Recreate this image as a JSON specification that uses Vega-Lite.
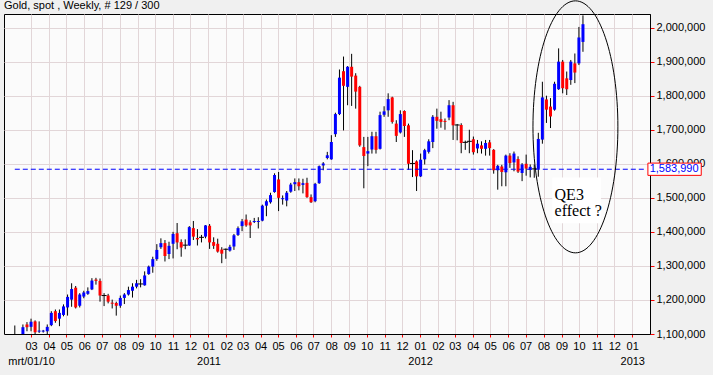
{
  "$schema": "https://vega.github.io/schema/vega-lite/v6.json",
  "width": 646,
  "height": 320,
  "autosize": {"type": "none"},
  "padding": {"left": 4, "top": 14, "right": 63, "bottom": 41},
  "background": "#F0F0F0",
  "config": {
    "view": {"fill": "#FBFBFB", "stroke": "#000000", "strokeWidth": 1},
    "font": "Liberation Sans",
    "axis": {
      "labelFont": "Liberation Sans",
      "labelFontSize": 11,
      "labelColor": "#000000",
      "gridColor": "#E2D6D8",
      "gridWidth": 1,
      "domainColor": "#000000",
      "tickColor": "#FF0000",
      "title": null
    },
    "axisY": {"labelOverlap": false, "labelBound": false, "labelFlush": false},
    "axisRight": {"labelOverlap": false, "labelBound": false, "labelFlush": false}
  },
  "title": {
    "text": "Gold, spot , Weekly, # 129 / 300",
    "anchor": "start",
    "frame": "group",
    "font": "Liberation Sans",
    "fontSize": 11,
    "fontWeight": "normal",
    "color": "#000000",
    "offset": 1,
    "dy": 13
  },
  "datasets": {
    "level": [{"d": "2010-02-01", "d2": "2013-01-23", "p": 1583990}],
    "qebox": [{"d": "2012-08-16", "d2": "2012-11-08", "p": 1560000, "p2": 1425000}],
    "ellipse": [{"d": "2012-09-25", "p": 1708500}],
    "qetext": [{"d": "2012-08-20", "p": 1494000}],
    "lblbox": [{"d": "2013-01-28", "d2": "2013-04-30", "p": 1602000, "p2": 1566000}],
    "lbltext": [{"d": "2013-01-31", "p": 1583990}]
  },
  "data": {
    "values": [
      {"d": "2010-02-01", "o": 1085000, "h": 1125000, "l": 1070000, "c": 1095000},
      {"d": "2010-02-08", "o": 1095000, "h": 1098000, "l": 1060000, "c": 1080000},
      {"d": "2010-02-15", "o": 1095000, "h": 1128000, "l": 1085000, "c": 1120000},
      {"d": "2010-02-22", "o": 1128000, "h": 1135000, "l": 1108000, "c": 1120000},
      {"d": "2010-03-01", "o": 1121000, "h": 1145000, "l": 1108000, "c": 1136000},
      {"d": "2010-03-08", "o": 1137000, "h": 1140000, "l": 1098000, "c": 1105000},
      {"d": "2010-03-15", "o": 1107000, "h": 1137000, "l": 1103000, "c": 1110000},
      {"d": "2010-03-22", "o": 1107000, "h": 1112000, "l": 1104000, "c": 1110000},
      {"d": "2010-03-29", "o": 1108000, "h": 1128000, "l": 1100000, "c": 1121000},
      {"d": "2010-04-05", "o": 1126000, "h": 1167000, "l": 1123000, "c": 1162000},
      {"d": "2010-04-12", "o": 1167000, "h": 1172000, "l": 1133000, "c": 1138000},
      {"d": "2010-04-19", "o": 1145000, "h": 1172000, "l": 1123000, "c": 1162000},
      {"d": "2010-04-26", "o": 1156000, "h": 1187000, "l": 1152000, "c": 1181000},
      {"d": "2010-05-03", "o": 1178000, "h": 1216000, "l": 1154000, "c": 1209000},
      {"d": "2010-05-10", "o": 1201000, "h": 1249000, "l": 1180000, "c": 1232000},
      {"d": "2010-05-17", "o": 1236000, "h": 1241000, "l": 1175000, "c": 1178000},
      {"d": "2010-05-24", "o": 1183000, "h": 1220000, "l": 1178000, "c": 1216000},
      {"d": "2010-05-31", "o": 1210000, "h": 1227000, "l": 1205000, "c": 1222000},
      {"d": "2010-06-07", "o": 1218000, "h": 1237000, "l": 1215000, "c": 1226000},
      {"d": "2010-06-14", "o": 1231000, "h": 1264000, "l": 1229000, "c": 1257000},
      {"d": "2010-06-21", "o": 1260000, "h": 1265000, "l": 1245000, "c": 1256000},
      {"d": "2010-06-28", "o": 1256000, "h": 1263000, "l": 1195000, "c": 1213000},
      {"d": "2010-07-05", "o": 1213000, "h": 1220000, "l": 1182000, "c": 1213000},
      {"d": "2010-07-12", "o": 1213000, "h": 1218000, "l": 1190000, "c": 1195000},
      {"d": "2010-07-19", "o": 1192000, "h": 1201000, "l": 1175000, "c": 1189000},
      {"d": "2010-07-26", "o": 1191000, "h": 1195000, "l": 1154000, "c": 1183000},
      {"d": "2010-08-02", "o": 1183000, "h": 1213000, "l": 1177000, "c": 1206000},
      {"d": "2010-08-09", "o": 1206000, "h": 1220000, "l": 1188000, "c": 1216000},
      {"d": "2010-08-16", "o": 1216000, "h": 1239000, "l": 1213000, "c": 1229000},
      {"d": "2010-08-23", "o": 1227000, "h": 1249000, "l": 1207000, "c": 1239000},
      {"d": "2010-08-30", "o": 1239000, "h": 1259000, "l": 1234000, "c": 1249000},
      {"d": "2010-09-06", "o": 1247000, "h": 1261000, "l": 1237000, "c": 1247000},
      {"d": "2010-09-13", "o": 1243000, "h": 1284000, "l": 1242000, "c": 1272000},
      {"d": "2010-09-20", "o": 1276000, "h": 1301000, "l": 1274000, "c": 1298000},
      {"d": "2010-09-27", "o": 1298000, "h": 1327000, "l": 1280000, "c": 1320000},
      {"d": "2010-10-04", "o": 1320000, "h": 1364000, "l": 1315000, "c": 1347000},
      {"d": "2010-10-11", "o": 1355000, "h": 1381000, "l": 1350000, "c": 1367000},
      {"d": "2010-10-18", "o": 1367000, "h": 1376000, "l": 1313000, "c": 1329000},
      {"d": "2010-10-25", "o": 1335000, "h": 1371000, "l": 1320000, "c": 1359000},
      {"d": "2010-11-01", "o": 1365000, "h": 1400000, "l": 1322000, "c": 1394000},
      {"d": "2010-11-08", "o": 1396000, "h": 1426000, "l": 1349000, "c": 1369000},
      {"d": "2010-11-15", "o": 1370000, "h": 1378000, "l": 1327000, "c": 1354000},
      {"d": "2010-11-22", "o": 1361000, "h": 1378000, "l": 1349000, "c": 1361000},
      {"d": "2010-11-29", "o": 1360000, "h": 1417000, "l": 1359000, "c": 1414000},
      {"d": "2010-12-06", "o": 1411000, "h": 1432000, "l": 1376000, "c": 1386000},
      {"d": "2010-12-13", "o": 1382000, "h": 1408000, "l": 1360000, "c": 1378000},
      {"d": "2010-12-20", "o": 1384000, "h": 1391000, "l": 1369000, "c": 1384000},
      {"d": "2010-12-27", "o": 1386000, "h": 1420000, "l": 1381000, "c": 1419000},
      {"d": "2011-01-03", "o": 1418000, "h": 1423000, "l": 1350000, "c": 1369000},
      {"d": "2011-01-10", "o": 1370000, "h": 1384000, "l": 1350000, "c": 1359000},
      {"d": "2011-01-17", "o": 1365000, "h": 1380000, "l": 1339000, "c": 1342000},
      {"d": "2011-01-24", "o": 1348000, "h": 1355000, "l": 1308000, "c": 1336000},
      {"d": "2011-01-31", "o": 1349000, "h": 1351000, "l": 1321000, "c": 1349000},
      {"d": "2011-02-07", "o": 1345000, "h": 1362000, "l": 1342000, "c": 1356000},
      {"d": "2011-02-14", "o": 1357000, "h": 1394000, "l": 1347000, "c": 1390000},
      {"d": "2011-02-21", "o": 1391000, "h": 1416000, "l": 1388000, "c": 1411000},
      {"d": "2011-02-28", "o": 1417000, "h": 1438000, "l": 1402000, "c": 1431000},
      {"d": "2011-03-07", "o": 1436000, "h": 1451000, "l": 1415000, "c": 1419000},
      {"d": "2011-03-14", "o": 1428000, "h": 1434000, "l": 1382000, "c": 1419000},
      {"d": "2011-03-21", "o": 1429000, "h": 1441000, "l": 1426000, "c": 1432000},
      {"d": "2011-03-28", "o": 1429000, "h": 1443000, "l": 1410000, "c": 1432000},
      {"d": "2011-04-04", "o": 1433000, "h": 1480000, "l": 1431000, "c": 1477000},
      {"d": "2011-04-11", "o": 1477000, "h": 1495000, "l": 1446000, "c": 1490000},
      {"d": "2011-04-18", "o": 1487000, "h": 1515000, "l": 1483000, "c": 1508000},
      {"d": "2011-04-25", "o": 1517000, "h": 1572000, "l": 1515000, "c": 1567000},
      {"d": "2011-05-02", "o": 1554000, "h": 1576000, "l": 1461000, "c": 1500000},
      {"d": "2011-05-09", "o": 1496000, "h": 1507000, "l": 1480000, "c": 1499000},
      {"d": "2011-05-16", "o": 1492000, "h": 1520000, "l": 1475000, "c": 1515000},
      {"d": "2011-05-23", "o": 1518000, "h": 1544000, "l": 1515000, "c": 1539000},
      {"d": "2011-05-30", "o": 1540000, "h": 1557000, "l": 1520000, "c": 1546000},
      {"d": "2011-06-06", "o": 1546000, "h": 1557000, "l": 1522000, "c": 1534000},
      {"d": "2011-06-13", "o": 1538000, "h": 1556000, "l": 1513000, "c": 1543000},
      {"d": "2011-06-20", "o": 1544000, "h": 1559000, "l": 1500000, "c": 1502000},
      {"d": "2011-06-27", "o": 1502000, "h": 1510000, "l": 1485000, "c": 1487000},
      {"d": "2011-07-04", "o": 1490000, "h": 1544000, "l": 1487000, "c": 1541000},
      {"d": "2011-07-11", "o": 1543000, "h": 1595000, "l": 1541000, "c": 1593000},
      {"d": "2011-07-18", "o": 1595000, "h": 1605000, "l": 1581000, "c": 1601000},
      {"d": "2011-07-25", "o": 1617000, "h": 1635000, "l": 1613000, "c": 1625000},
      {"d": "2011-08-01", "o": 1613000, "h": 1684000, "l": 1612000, "c": 1664000},
      {"d": "2011-08-08", "o": 1687000, "h": 1750000, "l": 1679000, "c": 1746000},
      {"d": "2011-08-15", "o": 1746000, "h": 1877000, "l": 1743000, "c": 1853000},
      {"d": "2011-08-22", "o": 1872000, "h": 1915000, "l": 1698000, "c": 1829000},
      {"d": "2011-08-29", "o": 1826000, "h": 1887000, "l": 1772000, "c": 1885000},
      {"d": "2011-09-05", "o": 1885000, "h": 1923000, "l": 1770000, "c": 1856000},
      {"d": "2011-09-12", "o": 1859000, "h": 1866000, "l": 1762000, "c": 1812000},
      {"d": "2011-09-19", "o": 1826000, "h": 1829000, "l": 1650000, "c": 1654000},
      {"d": "2011-09-26", "o": 1649000, "h": 1679000, "l": 1528000, "c": 1623000},
      {"d": "2011-10-03", "o": 1630000, "h": 1679000, "l": 1593000, "c": 1637000},
      {"d": "2011-10-10", "o": 1642000, "h": 1694000, "l": 1630000, "c": 1681000},
      {"d": "2011-10-17", "o": 1681000, "h": 1694000, "l": 1630000, "c": 1641000},
      {"d": "2011-10-24", "o": 1644000, "h": 1753000, "l": 1642000, "c": 1743000},
      {"d": "2011-10-31", "o": 1744000, "h": 1769000, "l": 1738000, "c": 1754000},
      {"d": "2011-11-07", "o": 1757000, "h": 1807000, "l": 1738000, "c": 1790000},
      {"d": "2011-11-14", "o": 1795000, "h": 1797000, "l": 1718000, "c": 1723000},
      {"d": "2011-11-21", "o": 1718000, "h": 1728000, "l": 1664000, "c": 1682000},
      {"d": "2011-11-28", "o": 1692000, "h": 1757000, "l": 1689000, "c": 1746000},
      {"d": "2011-12-05", "o": 1755000, "h": 1757000, "l": 1679000, "c": 1711000},
      {"d": "2011-12-12", "o": 1713000, "h": 1718000, "l": 1582000, "c": 1600000},
      {"d": "2011-12-19", "o": 1601000, "h": 1640000, "l": 1561000, "c": 1601000},
      {"d": "2011-12-26", "o": 1607000, "h": 1610000, "l": 1520000, "c": 1563000},
      {"d": "2012-01-02", "o": 1563000, "h": 1630000, "l": 1561000, "c": 1612000},
      {"d": "2012-01-09", "o": 1613000, "h": 1644000, "l": 1598000, "c": 1640000},
      {"d": "2012-01-16", "o": 1635000, "h": 1672000, "l": 1630000, "c": 1666000},
      {"d": "2012-01-23", "o": 1664000, "h": 1743000, "l": 1646000, "c": 1738000},
      {"d": "2012-01-30", "o": 1738000, "h": 1762000, "l": 1703000, "c": 1726000},
      {"d": "2012-02-06", "o": 1731000, "h": 1753000, "l": 1706000, "c": 1723000},
      {"d": "2012-02-13", "o": 1726000, "h": 1733000, "l": 1700000, "c": 1723000},
      {"d": "2012-02-20", "o": 1736000, "h": 1787000, "l": 1728000, "c": 1772000},
      {"d": "2012-02-27", "o": 1772000, "h": 1782000, "l": 1670000, "c": 1713000},
      {"d": "2012-03-05", "o": 1714000, "h": 1717000, "l": 1669000, "c": 1714000},
      {"d": "2012-03-12", "o": 1714000, "h": 1719000, "l": 1631000, "c": 1661000},
      {"d": "2012-03-19", "o": 1663000, "h": 1668000, "l": 1641000, "c": 1663000},
      {"d": "2012-03-26", "o": 1666000, "h": 1700000, "l": 1631000, "c": 1666000},
      {"d": "2012-04-02", "o": 1672000, "h": 1680000, "l": 1627000, "c": 1634000},
      {"d": "2012-04-09", "o": 1645000, "h": 1670000, "l": 1631000, "c": 1659000},
      {"d": "2012-04-16", "o": 1654000, "h": 1666000, "l": 1630000, "c": 1644000},
      {"d": "2012-04-23", "o": 1644000, "h": 1670000, "l": 1624000, "c": 1661000},
      {"d": "2012-04-30", "o": 1663000, "h": 1670000, "l": 1624000, "c": 1646000},
      {"d": "2012-05-07", "o": 1641000, "h": 1643000, "l": 1571000, "c": 1581000},
      {"d": "2012-05-14", "o": 1581000, "h": 1597000, "l": 1524000, "c": 1594000},
      {"d": "2012-05-21", "o": 1592000, "h": 1597000, "l": 1534000, "c": 1576000},
      {"d": "2012-05-28", "o": 1575000, "h": 1627000, "l": 1534000, "c": 1624000},
      {"d": "2012-06-04", "o": 1624000, "h": 1631000, "l": 1588000, "c": 1602000},
      {"d": "2012-06-11", "o": 1604000, "h": 1636000, "l": 1578000, "c": 1630000},
      {"d": "2012-06-18", "o": 1614000, "h": 1622000, "l": 1573000, "c": 1577000},
      {"d": "2012-06-25", "o": 1573000, "h": 1602000, "l": 1549000, "c": 1598000},
      {"d": "2012-07-02", "o": 1600000, "h": 1627000, "l": 1565000, "c": 1586000},
      {"d": "2012-07-09", "o": 1582000, "h": 1598000, "l": 1560000, "c": 1591000},
      {"d": "2012-07-16", "o": 1585000, "h": 1598000, "l": 1559000, "c": 1585000},
      {"d": "2012-07-23", "o": 1585000, "h": 1691000, "l": 1562000, "c": 1673000},
      {"d": "2012-07-30", "o": 1671000, "h": 1841000, "l": 1659000, "c": 1795000},
      {"d": "2012-08-06", "o": 1789000, "h": 1800000, "l": 1720000, "c": 1759000},
      {"d": "2012-08-13", "o": 1768000, "h": 1793000, "l": 1705000, "c": 1739000},
      {"d": "2012-08-20", "o": 1759000, "h": 1841000, "l": 1756000, "c": 1835000},
      {"d": "2012-08-27", "o": 1819000, "h": 1939000, "l": 1817000, "c": 1900000},
      {"d": "2012-09-03", "o": 1900000, "h": 1905000, "l": 1807000, "c": 1822000},
      {"d": "2012-09-10", "o": 1851000, "h": 1871000, "l": 1802000, "c": 1819000},
      {"d": "2012-09-17", "o": 1846000, "h": 1905000, "l": 1832000, "c": 1900000},
      {"d": "2012-09-24", "o": 1895000, "h": 1924000, "l": 1837000, "c": 1868000},
      {"d": "2012-10-01", "o": 1895000, "h": 2002000, "l": 1890000, "c": 1971000},
      {"d": "2012-10-08", "o": 1958000, "h": 2036000, "l": 1929000, "c": 2010000}
    ]
  },
  "encoding": {
    "x": {
      "field": "d",
      "type": "temporal",
      "title": null,
      "scale": {
        "type": "utc",
        "domain": [
          {"year": 2010, "month": 1, "date": 22, "utc": true},
          {"year": 2013, "month": 1, "date": 23, "utc": true}
        ]
      },
      "axis": {
        "values": [
          {"year": 2010, "month": 3, "date": 1, "utc": true},
          {"year": 2010, "month": 4, "date": 1, "utc": true},
          {"year": 2010, "month": 5, "date": 1, "utc": true},
          {"year": 2010, "month": 6, "date": 1, "utc": true},
          {"year": 2010, "month": 7, "date": 1, "utc": true},
          {"year": 2010, "month": 8, "date": 1, "utc": true},
          {"year": 2010, "month": 9, "date": 1, "utc": true},
          {"year": 2010, "month": 10, "date": 1, "utc": true},
          {"year": 2010, "month": 11, "date": 1, "utc": true},
          {"year": 2010, "month": 12, "date": 1, "utc": true},
          {"year": 2011, "month": 1, "date": 1, "utc": true},
          {"year": 2011, "month": 2, "date": 1, "utc": true},
          {"year": 2011, "month": 3, "date": 1, "utc": true},
          {"year": 2011, "month": 4, "date": 1, "utc": true},
          {"year": 2011, "month": 5, "date": 1, "utc": true},
          {"year": 2011, "month": 6, "date": 1, "utc": true},
          {"year": 2011, "month": 7, "date": 1, "utc": true},
          {"year": 2011, "month": 8, "date": 1, "utc": true},
          {"year": 2011, "month": 9, "date": 1, "utc": true},
          {"year": 2011, "month": 10, "date": 1, "utc": true},
          {"year": 2011, "month": 11, "date": 1, "utc": true},
          {"year": 2011, "month": 12, "date": 1, "utc": true},
          {"year": 2012, "month": 1, "date": 1, "utc": true},
          {"year": 2012, "month": 2, "date": 1, "utc": true},
          {"year": 2012, "month": 3, "date": 1, "utc": true},
          {"year": 2012, "month": 4, "date": 1, "utc": true},
          {"year": 2012, "month": 5, "date": 1, "utc": true},
          {"year": 2012, "month": 6, "date": 1, "utc": true},
          {"year": 2012, "month": 7, "date": 1, "utc": true},
          {"year": 2012, "month": 8, "date": 1, "utc": true},
          {"year": 2012, "month": 9, "date": 1, "utc": true},
          {"year": 2012, "month": 10, "date": 1, "utc": true},
          {"year": 2012, "month": 11, "date": 1, "utc": true},
          {"year": 2012, "month": 12, "date": 1, "utc": true},
          {"year": 2013, "month": 1, "date": 1, "utc": true}
        ],
        "labelExpr": "utcmonth(datum.value) == 0 ? [utcFormat(datum.value, '%m'), utcFormat(datum.value, '%Y')] : ((utcyear(datum.value) == 2010 && utcmonth(datum.value) == 2) ? ['03', 'mrt/01/10'] : utcFormat(datum.value, '%m'))",
        "labelAngle": 0,
        "labelAlign": "center",
        "labelBaseline": "top",
        "labelLineHeight": 15,
        "labelOverlap": false,
        "labelFlush": false,
        "labelBound": false,
        "labelPadding": 3,
        "tickSize": 3,
        "grid": true
      }
    }
  },
  "layer": [
    {
      "mark": {"type": "rule", "color": "#000000", "strokeWidth": 1, "clip": true},
      "encoding": {
        "y": {
          "field": "l",
          "type": "quantitative",
          "title": null,
          "scale": {"domain": [1100000, 2040000], "nice": false, "zero": false},
          "axis": {
            "orient": "right",
            "values": [1100000, 1200000, 1300000, 1400000, 1500000, 1600000, 1700000, 1800000, 1900000, 2000000],
            "tickCount": 10,
            "format": ",d",
            "tickSize": 4,
            "labelPadding": 2,
            "labelOverlap": false,
            "labelFlush": false,
            "labelBound": false,
            "grid": true
          }
        },
        "y2": {"field": "h"}
      }
    },
    {
      "transform": [{"filter": "datum.o != datum.c"}],
      "mark": {"type": "bar", "size": 3, "clip": true},
      "encoding": {
        "y": {"field": "o", "type": "quantitative", "title": null},
        "y2": {"field": "c"},
        "color": {
          "condition": {"test": "datum.c > datum.o", "value": "#0000FF"},
          "value": "#FF0000"
        }
      }
    },
    {
      "transform": [{"filter": "datum.o == datum.c"}],
      "mark": {"type": "tick", "orient": "horizontal", "size": 5, "thickness": 1, "color": "#000000", "opacity": 1, "clip": true},
      "encoding": {
        "y": {"field": "o", "type": "quantitative", "title": null}
      }
    },
    {
      "data": {"name": "level"},
      "mark": {"type": "rule", "color": "#0000FF", "strokeWidth": 1, "strokeDash": [5, 3]},
      "encoding": {
        "x": {"field": "d", "type": "temporal"},
        "x2": {"field": "d2"},
        "y": {"field": "p", "type": "quantitative"}
      }
    },
    {
      "data": {"name": "qebox"},
      "mark": {"type": "rect", "fill": "#FFFFFF"},
      "encoding": {
        "x": {"field": "d", "type": "temporal"},
        "x2": {"field": "d2"},
        "y": {"field": "p", "type": "quantitative"},
        "y2": {"field": "p2"}
      }
    },
    {
      "data": {"name": "ellipse"},
      "mark": {
        "type": "point",
        "shape": "M 0 -1 C 0.186 -1 0.337 -0.552 0.337 0 C 0.337 0.552 0.186 1 0 1 C -0.186 1 -0.337 0.552 -0.337 0 C -0.337 -0.552 -0.186 -1 0 -1 Z",
        "size": 63504,
        "filled": false,
        "stroke": "#000000",
        "strokeWidth": 1,
        "opacity": 1
      },
      "encoding": {
        "x": {"field": "d", "type": "temporal"},
        "y": {"field": "p", "type": "quantitative"}
      }
    },
    {
      "data": {"name": "qetext"},
      "mark": {
        "type": "text",
        "text": ["QE3", "effect ?"],
        "font": "Liberation Serif",
        "fontSize": 16,
        "lineHeight": 16,
        "align": "left",
        "baseline": "alphabetic",
        "color": "#000000"
      },
      "encoding": {
        "x": {"field": "d", "type": "temporal"},
        "y": {"field": "p", "type": "quantitative"}
      }
    },
    {
      "data": {"name": "lblbox"},
      "mark": {"type": "rect", "fill": "#FFFFFF", "stroke": "#FF0000", "strokeWidth": 1},
      "encoding": {
        "x": {"field": "d", "type": "temporal"},
        "x2": {"field": "d2"},
        "y": {"field": "p", "type": "quantitative"},
        "y2": {"field": "p2"}
      }
    },
    {
      "data": {"name": "lbltext"},
      "mark": {
        "type": "text",
        "text": "1,583,990",
        "font": "Liberation Sans",
        "fontSize": 11,
        "align": "left",
        "baseline": "middle",
        "color": "#0000FF"
      },
      "encoding": {
        "x": {"field": "d", "type": "temporal"},
        "y": {"field": "p", "type": "quantitative"}
      }
    }
  ]
}
